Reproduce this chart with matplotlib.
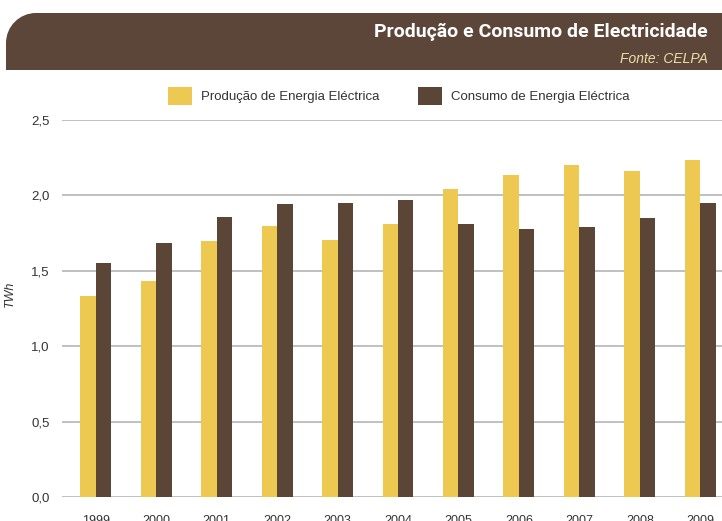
import numpy as np
import matplotlib
matplotlib.use('Agg')
import matplotlib.pyplot as plt
from matplotlib.path import Path
from matplotlib.patches import PathPatch

# dados (TWh)
anos = ['1999', '2000', '2001', '2002', '2003', '2004', '2005', '2006', '2007', '2008', '2009']
producao = [1.33, 1.43, 1.70, 1.80, 1.705, 1.81, 2.045, 2.135, 2.20, 2.165, 2.235]
consumo = [1.555, 1.685, 1.86, 1.94, 1.95, 1.97, 1.81, 1.78, 1.79, 1.85, 1.95]
yticks = [0.0, 0.5, 1.0, 1.5, 2.0, 2.5]

AMARELO = '#EDC951'
CASTANHO = '#5B4537'
TEXTO = '#333333'

plt.rcParams['font.family'] = ['Liberation Sans', 'DejaVu Sans']

W, H = 722, 521
fig = plt.figure(figsize=(W / 100, H / 100), dpi=100)

# faixa do título (coordenadas em pixels)
bg = fig.add_axes([0, 0, 1, 1])
bg.set_xlim(0, W)
bg.set_ylim(H, 0)
bg.axis('off')
top, bot, left, r = 13, 70, 6, 30
k = 0.5523 * r
verts = [(left, bot), (left, top + r),
         (left, top + r - k), (left + r - k, top), (left + r, top),
         (W + 5, top), (W + 5, bot), (left, bot)]
codes = [Path.MOVETO, Path.LINETO, Path.CURVE4, Path.CURVE4, Path.CURVE4,
         Path.LINETO, Path.LINETO, Path.CLOSEPOLY]
bg.add_patch(PathPatch(Path(verts, codes), facecolor='#5C4639', edgecolor='none'))
bg.text(708, 37, 'Produção e Consumo de Electricidade', color='white',
        fontsize=14, fontweight='bold', family=['Roboto', 'DejaVu Sans'],
        ha='right', va='baseline')
bg.text(708, 63, 'Fonte: CELPA', color='#F0DDA8', fontsize=10,
        fontstyle='italic', ha='right', va='baseline')

# gráfico
ax = fig.add_axes([62 / W, 1 - 497 / H, 672 / W, 377 / H])
x = np.arange(len(anos))
w = 0.256
ax.bar(x - w / 2, producao, width=w, color=AMARELO, label='Produção de Energia Eléctrica')
ax.bar(x + w / 2, consumo, width=w, color=CASTANHO, label='Consumo de Energia Eléctrica')

ax.set_xlim(-0.557, len(anos) - 1 + 0.557)
ax.set_ylim(0, 2.5)
ax.set_yticks(yticks)
ax.set_yticklabels([f'{v:.1f}'.replace('.', ',') for v in yticks], fontsize=9.5, color=TEXTO)
ax.set_xticks(x)
ax.set_xticklabels(anos, fontsize=9, color=TEXTO)
ax.tick_params(axis='both', length=0)
ax.tick_params(axis='y', pad=9)
ax.tick_params(axis='x', pad=13)
ax.set_ylabel('TWh', fontstyle='italic', fontsize=9, color=TEXTO)
ax.yaxis.set_label_coords(-0.068, 0.54)
ax.yaxis.grid(True, color='#b5b5b5', linewidth=1.2)
ax.set_axisbelow(True)
for s in ax.spines.values():
    s.set_visible(False)

fig.legend(loc='center', bbox_to_anchor=(399 / W, 1 - 96 / H), ncol=2, frameon=False,
           fontsize=9.5, handlelength=1.8, handleheight=1.8, handletextpad=0.7,
           columnspacing=2.95, borderpad=0, labelcolor=TEXTO)

fig.savefig('out.png', dpi=100)
